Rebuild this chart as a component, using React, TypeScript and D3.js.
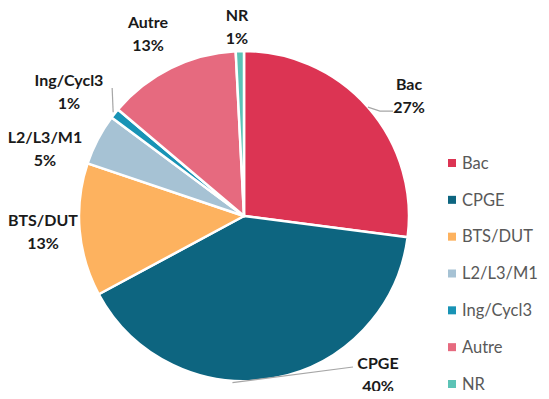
import * as d3 from "d3";
import { useEffect, useRef } from "react";

const CATEGORIES = ["Bac", "CPGE", "BTS/DUT", "L2/L3/M1", "Ing/Cycl3", "Autre", "NR"];
const VALUES = [27, 40, 13, 5, 1, 13, 0.8];
const PCT_LABELS = ["27%", "40%", "13%", "5%", "1%", "13%", "1%"];
const COLORS = ["#dc3453", "#0d6580", "#fdb25f", "#a6c2d4", "#1893b5", "#e66a7f", "#5cc3b6"];

// label placement (layout only)
const LABEL_POS: Record<string, [number, number]> = {
  Bac: [409, 84],
  CPGE: [378, 363],
  "BTS/DUT": [43, 220],
  "L2/L3/M1": [45, 137],
  "Ing/Cycl3": [69, 80],
  Autre: [148, 22],
  NR: [237, 15],
};

export default function App() {
  const ref = useRef<SVGSVGElement | null>(null);

  useEffect(() => {
    const svg = d3.select(ref.current);
    svg.selectAll("*").remove();

    const width = 549;
    const height = 399;
    const cx = 244;
    const cy = 216;
    const radius = 165;

    svg.attr("width", width).attr("height", height).attr("viewBox", `0 0 ${width} ${height}`);
    svg.append("rect").attr("width", width).attr("height", height).attr("fill", "#fff");

    const data = CATEGORIES.map((c, i) => ({ name: c, value: VALUES[i], pct: PCT_LABELS[i], color: COLORS[i] }));
    const pie = d3.pie<(typeof data)[number]>().sort(null).value((d) => d.value);
    const arcs = pie(data);
    const arc = d3.arc<d3.PieArcDatum<(typeof data)[number]>>().innerRadius(0).outerRadius(radius);

    const g = svg.append("g").attr("transform", `translate(${cx},${cy})`);
    g.selectAll("path.slice")
      .data(arcs)
      .enter()
      .append("path")
      .attr("class", "slice")
      .attr("d", arc)
      .attr("fill", (d) => d.data.color)
      .attr("stroke", "#fff")
      .attr("stroke-width", 2.5)
      .attr("stroke-linejoin", "round");

    const edge = (a: number, r: number): [number, number] => [
      cx + Math.sin(a) * r,
      cy - Math.cos(a) * r,
    ];

    // leader lines
    const line = d3.line();
    const leaders: [number, number][][] = [];
    const bac = arcs[0];
    const bacStart = edge((bac.startAngle + bac.endAngle) / 2, radius);
    leaders.push([bacStart, [bacStart[0] + 12, bacStart[1] + 4], [LABEL_POS.Bac[0] - 16, bacStart[1] + 4]]);
    const cpge = arcs[1];
    const cpgeStart = edge(cpge.startAngle + (cpge.endAngle - cpge.startAngle) * 0.6, radius + 2);
    leaders.push([cpgeStart, [LABEL_POS.CPGE[0] - 25, LABEL_POS.CPGE[1] + 4]]);
    const ing = arcs[4];
    const ingStart = edge((ing.startAngle + ing.endAngle) / 2, radius + 2);
    leaders.push([ingStart, [ingStart[0] - 1, LABEL_POS["Ing/Cycl3"][1] + 8]]);
    leaders.forEach((pts) => {
      svg
        .append("path")
        .attr("d", line(pts) ?? "")
        .attr("fill", "none")
        .attr("stroke", "#a6a6a6")
        .attr("stroke-width", 1.2);
    });

    // labels
    arcs.forEach((a) => {
      const [x, y] = LABEL_POS[a.data.name];
      const t = svg
        .append("text")
        .attr("x", x)
        .attr("y", y)
        .attr("text-anchor", "middle")
        .attr("font-family", "Lato, 'Open Sans', sans-serif")
        .attr("font-weight", 700)
        .attr("font-size", 16)
        .attr("fill", "#1a1a1a");
      t.append("tspan").attr("x", x).attr("dy", "0.35em").text(a.data.name);
      t.append("tspan").attr("x", x).attr("dy", 23).text(a.data.pct);
    });

    // legend
    const legendY = d3.scalePoint<string>().domain(CATEGORIES).range([163, 384]);
    const lg = svg.append("g");
    CATEGORIES.forEach((c, i) => {
      const y = legendY(c) ?? 0;
      lg.append("rect")
        .attr("x", 448)
        .attr("y", y - 4)
        .attr("width", 8)
        .attr("height", 8)
        .attr("fill", COLORS[i]);
      lg.append("text")
        .attr("x", 462)
        .attr("y", y)
        .attr("dy", "0.35em")
        .attr("font-family", "Lato, 'Open Sans', sans-serif")
        .attr("font-size", 16.5)
        .attr("fill", "#595959")
        .text(c);
    });
  }, []);

  return <svg ref={ref} style={{ display: "block", margin: "-8px" }} />;
}
